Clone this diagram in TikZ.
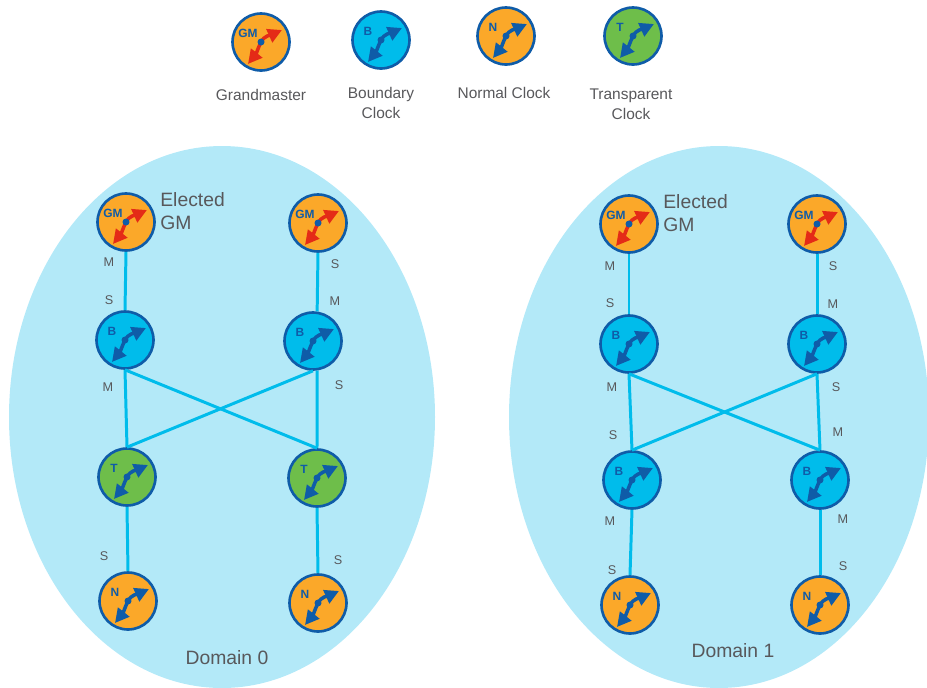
\documentclass[tikz,border=0pt]{standalone}
\usepackage{fontspec}
\setmainfont{Liberation Sans}
\usetikzlibrary{arrows.meta}
\definecolor{mdomain}{HTML}{B3E9F8}
\definecolor{mlink}{HTML}{00BCEB}
\definecolor{morange}{HTML}{FBA829}
\definecolor{mgreen}{HTML}{6EBE4A}
\definecolor{mdark}{HTML}{0F5CA8}
\definecolor{mred}{HTML}{E42B17}
\definecolor{mtext}{HTML}{58585B}
\tikzset{clock/.style = {circle, draw=mdark, line width=1.5pt, minimum size=1.14cm, inner sep=0, fill=#1}}
\tikzset{hand/.style = {line width=2pt, -{Triangle[length=8pt, width=8pt]}}}
\tikzset{letter/.style = {text=mdark, font=\fontsize{6.8}{7}\selectfont\bfseries, inner sep=0}}
\tikzset{port/.style = {text=mtext, font=\fontsize{7.2}{8}\selectfont, inner sep=0}}
\tikzset{legend/.style = {text=mtext, font=\fontsize{8.8}{11.2}\selectfont, align=center, inner sep=0}}
\tikzset{title/.style = {text=mtext, font=\fontsize{11}{13}\selectfont, align=left, inner sep=0}}
\tikzset{wire/.style = {draw=mlink, line width=1.7pt}}
% name, x, y, fill, letter, hand colour
\newcommand{\clockat}[6]{
  \node [clock=#4] (#1) at (#2, #3) {};
  \begin{scope}[shift={(#1.center)}]
    \draw [hand, #6] (0, 0) .. controls (4, -7) and (10, -7) .. (21, -12);
    \draw [hand, #6] (0, 0) .. controls (-2, 4) and (-5, 12) .. (-13, 22);
    \fill [mdark] (0, 0) circle (3.5);
    \node [letter] (#1-l) at (-13, -9) {#5};
  \end{scope}
}
\begin{document}
\begin{tikzpicture}[x=0.02cm, y=-0.02cm]
    \useasboundingbox (0, 0) rectangle (927, 687);
    \begin{scope}
      \clip (0, 0) rectangle (927, 687);
      \fill [mdomain] (222, 417) ellipse (213 and 271);
      \fill [mdomain] (719, 417) ellipse (210 and 271);
    \end{scope}

    % legend
    \clockat{lgm}{261}{42}{morange}{GM}{mred}
    \clockat{lb}{381}{40}{mlink}{B}{mdark}
    \clockat{ln}{506}{36}{morange}{N}{mdark}
    \clockat{lt}{633}{36}{mgreen}{T}{mdark}
    \node [legend] (lgmt) at (261, 95) {Grandmaster};
    \node [legend] (lbt) at (381, 103) {Boundary\\Clock};
    \node [legend] (lnt) at (504, 93) {Normal Clock};
    \node [legend] (ltt) at (631, 104) {Transparent\\Clock};

    % domain 0
    \clockat{agm}{126}{222}{morange}{GM}{mred}
    \clockat{bgm}{318}{223}{morange}{GM}{mred}
    \clockat{ab}{125}{340}{mlink}{B}{mdark}
    \clockat{bb}{313}{341}{mlink}{B}{mdark}
    \clockat{at}{127}{477}{mgreen}{T}{mdark}
    \clockat{bt}{317}{478}{mgreen}{T}{mdark}
    \clockat{an}{128}{601}{morange}{N}{mdark}
    \clockat{bn}{318}{603}{morange}{N}{mdark}

    % domain 1
    \clockat{cgm}{629}{224}{morange}{GM}{mred}
    \clockat{dgm}{817}{224}{morange}{GM}{mred}
    \clockat{cb}{629}{344}{mlink}{B}{mdark}
    \clockat{db}{817}{344}{mlink}{B}{mdark}
    \clockat{cm}{632}{480}{mlink}{B}{mdark}
    \clockat{dm}{820}{480}{mlink}{B}{mdark}
    \clockat{cn}{630}{605}{morange}{N}{mdark}
    \clockat{dn}{820}{605}{morange}{N}{mdark}

    \foreach \p/\q in {agm.south/ab.north, bgm.south/bb.82, ab.south/at.north, bb.-82/bt.north,
                       ab.south/bt.north, bb.south/at.north, at.south/an.north, bt.south/bn.north,
                       cgm.south/cb.north, dgm.south/db.north, cb.south/cm.north, db.south/dm.north,
                       cb.south/dm.north, db.south/cm.north, cm.south/cn.north, dm.south/dn.north} {
      \draw [wire] (\p) -- (\q);
    }

    \foreach \n/\x/\y/\t in {p1/109/262/M, p2/109/300/S, p3/108/387/M, p4/335/264/S,
                             p5/335/301/M, p6/339/385/S, p7/104/556/S, p8/338/560/S,
                             q1/610/266/M, q2/610/303/S, q3/612/387/M, q4/613/435/S,
                             q5/610/521/M, q6/612/570/S, q7/833/266/S, q8/833/304/M,
                             q9/836/387/S, q10/838/432/M, q11/843/519/M, q12/843/566/S} {
      \node [port] (\n) at (\x, \y) {\t};
    }

    \node [title, anchor=west] (ae) at (160, 211) {Elected\\GM};
    \node [title, anchor=west] (ce) at (663, 213) {Elected\\GM};
    \node [title] (ad) at (227, 658) {Domain 0};
    \node [title] (cd) at (733, 651) {Domain 1};
  \end{tikzpicture}
\end{document}
